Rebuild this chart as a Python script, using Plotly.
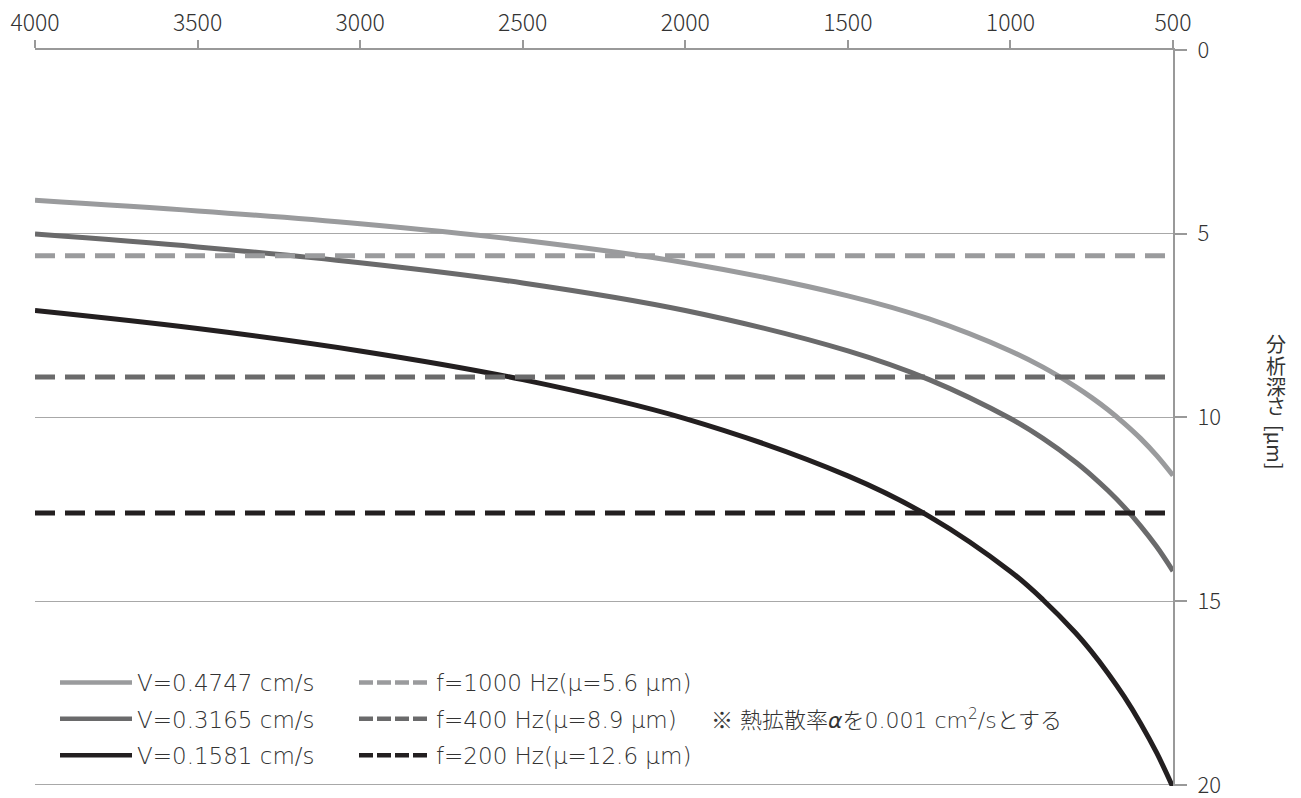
import plotly.graph_objects as go

# wavenumber positions (x) and analysis depth (μm)
wavenumber = [4000, 3500, 3000, 2500, 2000, 1500, 1250, 1000, 900, 800, 750, 700, 650, 600, 550, 500]
depth_v04747 = [4.09, 4.38, 4.73, 5.18, 5.79, 6.69, 7.32, 8.19, 8.63, 9.16, 9.46, 9.79, 10.16, 10.57, 11.04, 11.58]
depth_v03165 = [5.01, 5.36, 5.79, 6.34, 7.09, 8.19, 8.97, 10.03, 10.57, 11.21, 11.58, 11.99, 12.44, 12.95, 13.52, 14.18]
depth_v01581 = [7.09, 7.58, 8.19, 8.97, 10.03, 11.59, 12.69, 14.19, 14.96, 15.86, 16.38, 16.96, 17.60, 18.32, 19.13, 20.07]

curve_names = ["V=0.4747 cm/s", "V=0.3165 cm/s", "V=0.1581 cm/s"]
curve_values = [depth_v04747, depth_v03165, depth_v01581]

line_x = [4000, 500]
fixed_depths = [5.6, 8.9, 12.6]
fixed_names = ["f=1000 Hz(μ=5.6 μm)", "f=400 Hz(μ=8.9 μm)", "f=200 Hz(μ=12.6 μm)"]

colors = ["#9a9b9d", "#6a6a6b", "#231f20"]

TICK_FONT = "Noto Sans CJK JP"
TEXT_FONT = "DejaVu Sans, Noto Sans CJK JP"
TXT = "#333333"

fig = go.Figure()

for i, (name, vals, c) in enumerate(zip(curve_names, curve_values, colors)):
    fig.add_trace(go.Scatter(x=wavenumber, y=vals, mode="lines", name=name,
                             line=dict(color=c, width=5, shape="spline", smoothing=1.0),
                             showlegend=False, hoverinfo="skip", cliponaxis=False))
    fig.add_trace(go.Scatter(x=[None], y=[None], mode="lines", name=name,
                             line=dict(color=c, width=4.5),
                             legend="legend", legendgroup=f"v{i}"))

for i, (name, d, c) in enumerate(zip(fixed_names, fixed_depths, colors)):
    fig.add_trace(go.Scatter(x=line_x, y=[d, d], mode="lines", name=name,
                             line=dict(color=c, width=5, dash="20px,10px"),
                             showlegend=False, hoverinfo="skip"))
    fig.add_trace(go.Scatter(x=[None], y=[None], mode="lines", name=name,
                             line=dict(color=c, width=4.5, dash="14px,4px"),
                             legend="legend2", legendgroup=f"f{i}"))

L, R, T, B = 35, 128, 50, 12
W, H = 1301, 798
pw, ph = W - L - R, H - T - B

def px_x(x):
    return (x - L) / pw

def px_y(y):
    return 1 - (y - T) / ph

legend_common = dict(bgcolor="rgba(0,0,0,0)", borderwidth=0, orientation="v",
                     font=dict(family=TEXT_FONT, size=23, color=TXT, weight=300),
                     itemwidth=72, tracegroupgap=3.5,
                     xanchor="left", yanchor="top")

fig.update_layout(
    width=W, height=H,
    margin=dict(l=L, r=R, t=T, b=B, pad=0, autoexpand=False),
    paper_bgcolor="white", plot_bgcolor="white",
    font=dict(family=TICK_FONT, color=TXT),
    legend=dict(x=px_x(55), y=px_y(661), **legend_common),
    legend2=dict(x=px_x(354), y=px_y(661), **legend_common),
    xaxis=dict(side="top", range=[4000, 500], dtick=500, tick0=500,
               ticks="outside", ticklen=8, tickwidth=1.5, tickcolor="#999999",
               showline=True, linecolor="#999999", linewidth=2,
               showgrid=False, zeroline=False, automargin=False,
               tickfont=dict(family=TICK_FONT, size=23, color=TXT, weight=300)),
    yaxis=dict(side="right", range=[20.03, 0], tickvals=[0, 5, 10, 15, 20],
               ticks="outside", ticklen=12, tickwidth=1.5, tickcolor="#999999",
               showline=True, linecolor="#999999", linewidth=2,
               showgrid=True, gridcolor="#a8a8a8", gridwidth=1.2, zeroline=False,
               automargin=False, ticklabelstandoff=6, ticklabeloverflow="allow",
               tickfont=dict(family=TICK_FONT, size=22, color=TXT, weight=300)),
    showlegend=True,
)

# vertical Japanese axis title (stacked upright characters + rotated bracket part)
title_chars = ["分", "析", "深", "さ"]
char_y = [343, 365, 386, 405]
for ch, yy in zip(title_chars, char_y):
    fig.add_annotation(text=ch, xref="paper", yref="paper", x=px_x(1276), y=px_y(yy),
                       showarrow=False, xanchor="center", yanchor="middle",
                       font=dict(family=TICK_FONT, size=20, color=TXT))
fig.add_annotation(text="[μm]", xref="paper", yref="paper", x=px_x(1276), y=px_y(447),
                   showarrow=False, xanchor="center", yanchor="middle", textangle=90,
                   font=dict(family=TICK_FONT, size=20, color=TXT))

fig.add_annotation(text="<span style='font-family:Noto Sans CJK JP'>※</span> 熱拡散率"
                        "<i>α</i>を0.001 cm<sup>2</sup>/sとする",
                   xref="paper", yref="paper", x=px_x(709), y=px_y(718),
                   showarrow=False, xanchor="left", yanchor="middle",
                   font=dict(family=TEXT_FONT, size=22, color=TXT, weight=300))

fig.write_html("out.html", config={"displayModeBar": False},
               post_script="document.body.style.margin='0';")
